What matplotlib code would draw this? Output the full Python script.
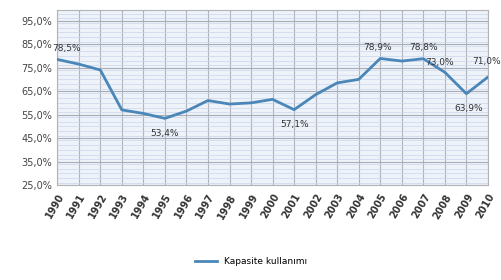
import numpy as np
import matplotlib.pyplot as plt
from matplotlib.ticker import MultipleLocator, FuncFormatter

years = list(range(1990, 2011))
capacity = [78.5, 76.5, 74.0, 57.0, 55.5, 53.4, 56.5, 61.0, 59.5, 60.0, 61.5,
            57.1, 63.5, 68.5, 70.0, 78.9, 77.8, 78.8, 73.0, 63.9, 71.0]
# labelled points: year -> (dx, dy) offset in points
labelled = {1990: (7, 8), 1995: (0, -11), 2001: (0, -11), 2005: (-2, 8),
            2007: (0, 8), 2008: (-4, 7), 2009: (2, -11), 2010: (-1, 11)}

fig = plt.figure(figsize=(5.02, 2.8), dpi=100)
ax = fig.add_axes([0.114, 0.339, 0.858, 0.625])
ax.set_facecolor("#eef3fa")

x = np.arange(len(years))
ax.plot(x, capacity, color="#4a86b8", lw=2.0, label="Kapasite kullanımı", zorder=3)

for i, (yr, v) in enumerate(zip(years, capacity)):
    if yr in labelled:
        dx, dy = labelled[yr]
        ax.annotate(f"{v:.1f}%".replace(".", ","), (i, v), xytext=(dx, dy),
                    textcoords="offset points", ha="center", va="center",
                    fontsize=6.5, color="#333333", zorder=4)

ax.set_xlim(0, len(years) - 1)
ax.set_ylim(25, 99.5)
ax.set_yticks(np.arange(25, 96, 10))
ax.yaxis.set_major_formatter(FuncFormatter(lambda v, p: f"{v:.1f}%".replace(".", ",")))
ax.yaxis.set_minor_locator(MultipleLocator(2))
ax.set_xticks(x)
ax.set_xticklabels(years, rotation=60, ha="right", rotation_mode="anchor",
                   fontsize=7, fontweight="bold", color="#333333")
ax.tick_params(axis="y", labelsize=7, colors="#444444", length=0)
ax.tick_params(axis="y", which="minor", length=0)
ax.tick_params(axis="x", length=0, pad=5)
ax.grid(axis="y", which="major", color="#a8adb5", lw=0.8)
ax.grid(axis="y", which="minor", color="#c9d6ea", lw=0.5)
ax.grid(axis="x", which="major", color="#b0b4ba", lw=0.8)
for s in ax.spines.values():
    s.set_color("#b0b4ba")
    s.set_linewidth(0.8)

fig.legend(loc="lower center", bbox_to_anchor=(0.5, 0.02), frameon=False,
           fontsize=6.5, handlelength=2.5)

plt.savefig("out.png", dpi=100)
